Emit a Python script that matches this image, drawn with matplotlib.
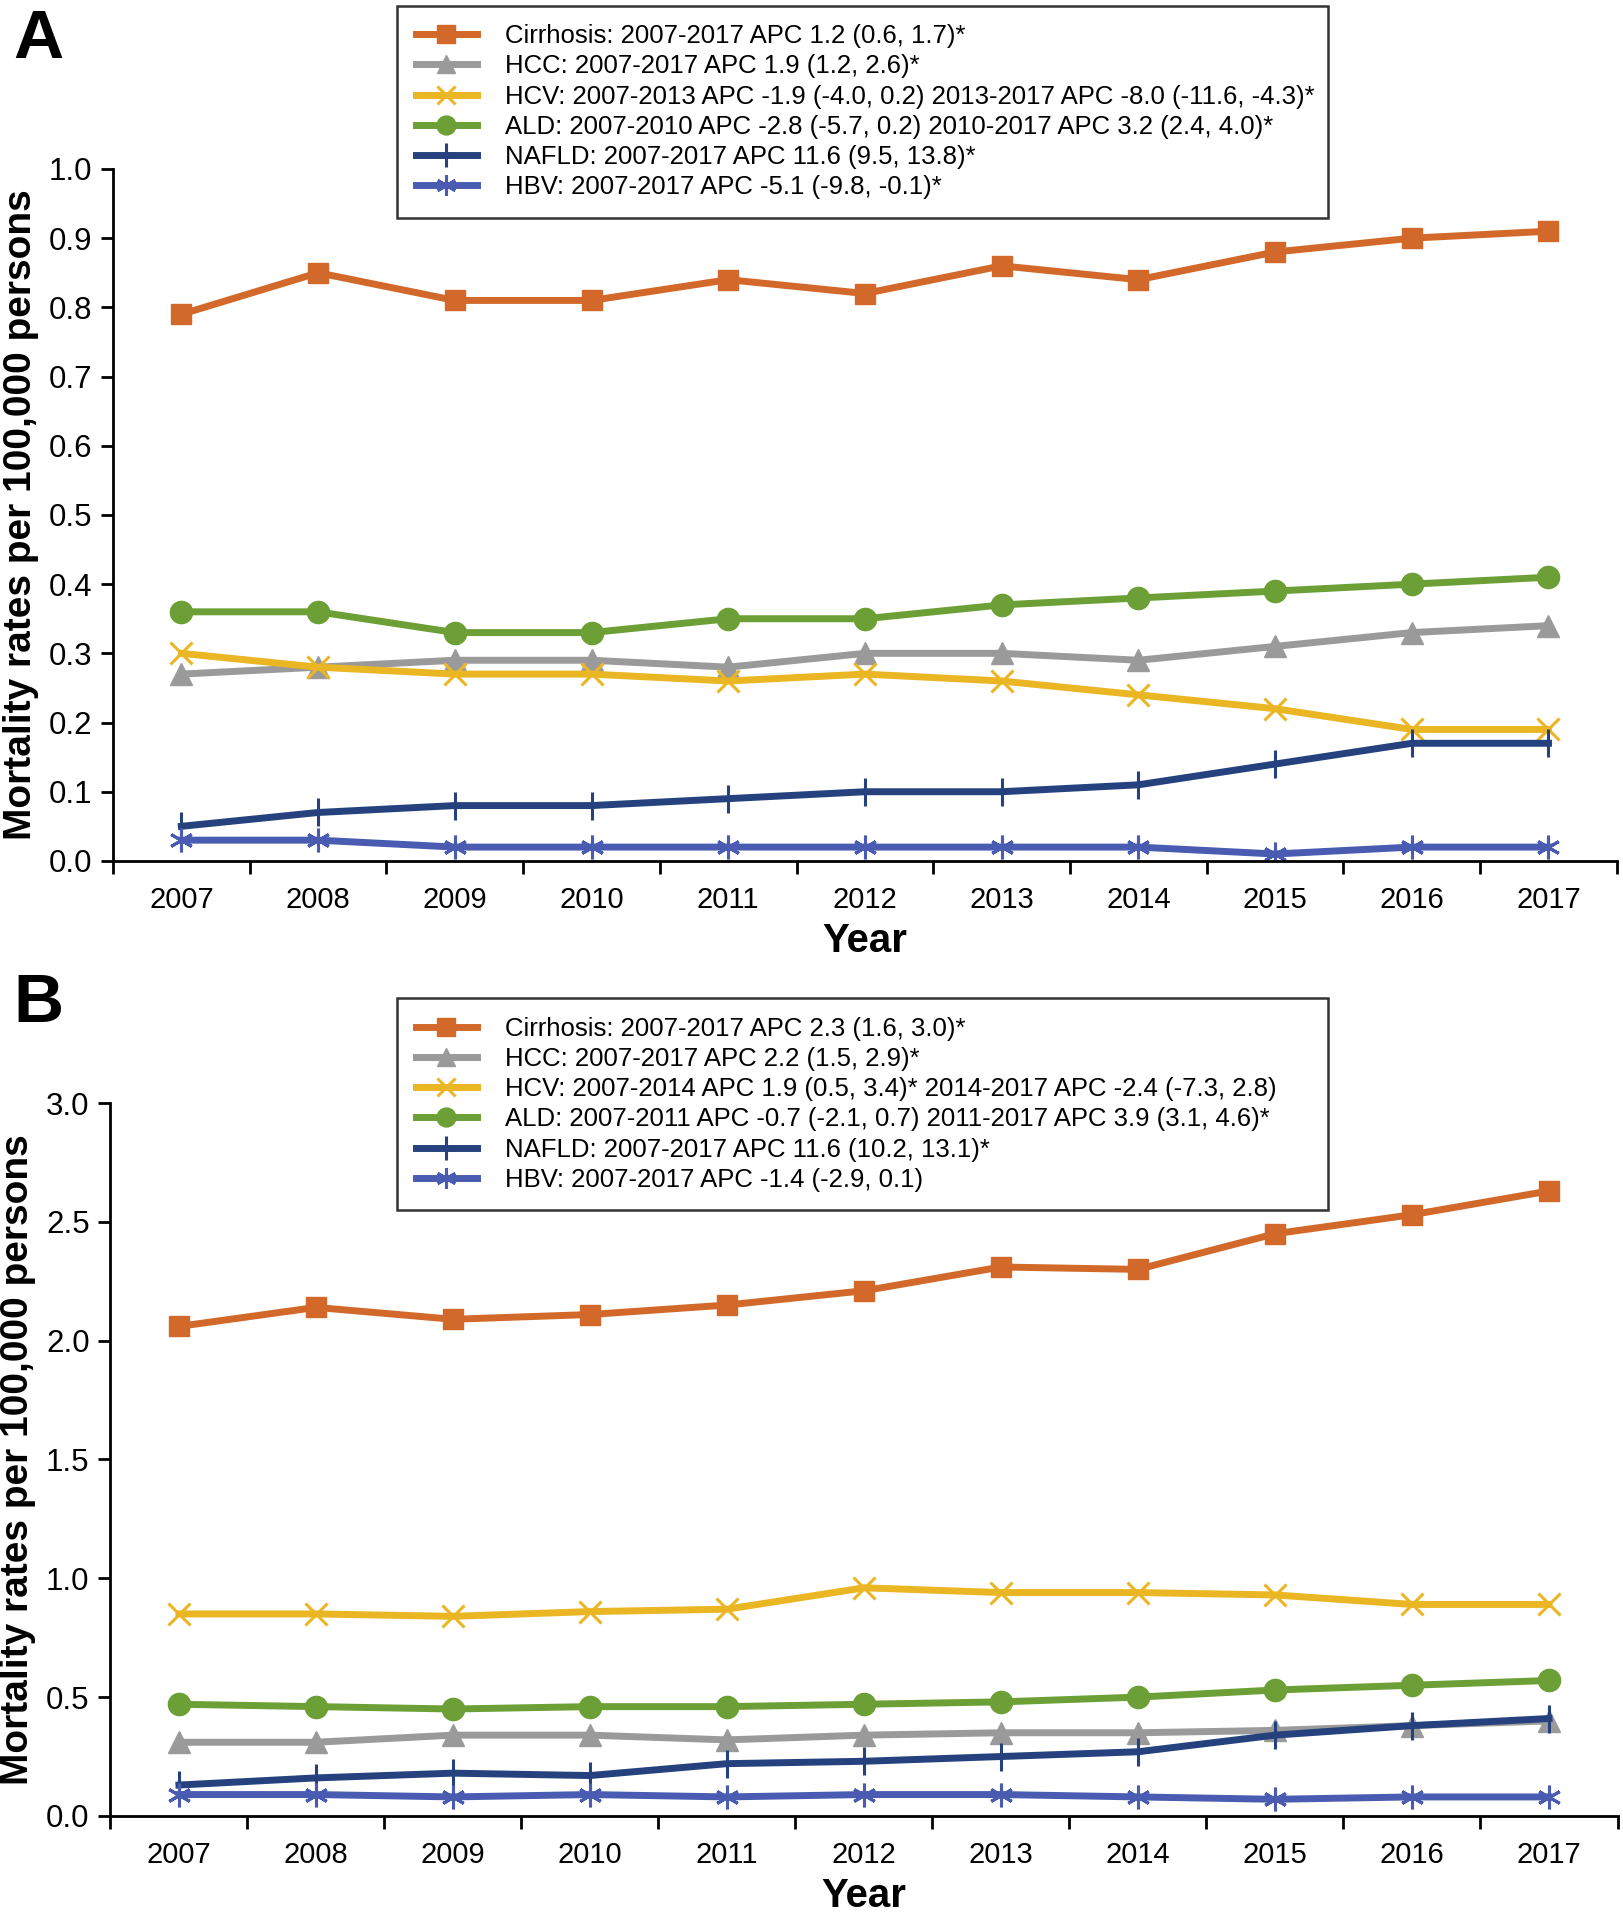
import matplotlib
matplotlib.use('Agg')
import matplotlib.pyplot as plt
from matplotlib.ticker import MultipleLocator, FixedLocator

years = list(range(2007, 2018))

# panel A
cirrhosis_a = [0.79, 0.85, 0.81, 0.81, 0.84, 0.82, 0.86, 0.84, 0.88, 0.90, 0.91]
hcc_a = [0.27, 0.28, 0.29, 0.29, 0.28, 0.30, 0.30, 0.29, 0.31, 0.33, 0.34]
hcv_a = [0.30, 0.28, 0.27, 0.27, 0.26, 0.27, 0.26, 0.24, 0.22, 0.19, 0.19]
ald_a = [0.36, 0.36, 0.33, 0.33, 0.35, 0.35, 0.37, 0.38, 0.39, 0.40, 0.41]
nafld_a = [0.05, 0.07, 0.08, 0.08, 0.09, 0.10, 0.10, 0.11, 0.14, 0.17, 0.17]
hbv_a = [0.03, 0.03, 0.02, 0.02, 0.02, 0.02, 0.02, 0.02, 0.01, 0.02, 0.02]
labels_a = [
    'Cirrhosis: 2007-2017 APC 1.2 (0.6, 1.7)*',
    'HCC: 2007-2017 APC 1.9 (1.2, 2.6)*',
    'HCV: 2007-2013 APC -1.9 (-4.0, 0.2) 2013-2017 APC -8.0 (-11.6, -4.3)*',
    'ALD: 2007-2010 APC -2.8 (-5.7, 0.2) 2010-2017 APC 3.2 (2.4, 4.0)*',
    'NAFLD: 2007-2017 APC 11.6 (9.5, 13.8)*',
    'HBV: 2007-2017 APC -5.1 (-9.8, -0.1)*',
]

# panel B
cirrhosis_b = [2.06, 2.14, 2.09, 2.11, 2.15, 2.21, 2.31, 2.30, 2.45, 2.53, 2.63]
hcc_b = [0.31, 0.31, 0.34, 0.34, 0.32, 0.34, 0.35, 0.35, 0.36, 0.38, 0.40]
hcv_b = [0.85, 0.85, 0.84, 0.86, 0.87, 0.96, 0.94, 0.94, 0.93, 0.89, 0.89]
ald_b = [0.47, 0.46, 0.45, 0.46, 0.46, 0.47, 0.48, 0.50, 0.53, 0.55, 0.57]
nafld_b = [0.13, 0.16, 0.18, 0.17, 0.22, 0.23, 0.25, 0.27, 0.34, 0.38, 0.41]
hbv_b = [0.09, 0.09, 0.08, 0.09, 0.08, 0.09, 0.09, 0.08, 0.07, 0.08, 0.08]
labels_b = [
    'Cirrhosis: 2007-2017 APC 2.3 (1.6, 3.0)*',
    'HCC: 2007-2017 APC 2.2 (1.5, 2.9)*',
    'HCV: 2007-2014 APC 1.9 (0.5, 3.4)* 2014-2017 APC -2.4 (-7.3, 2.8)',
    'ALD: 2007-2011 APC -0.7 (-2.1, 0.7) 2011-2017 APC 3.9 (3.1, 4.6)*',
    'NAFLD: 2007-2017 APC 11.6 (10.2, 13.1)*',
    'HBV: 2007-2017 APC -1.4 (-2.9, 0.1)',
]

colors = ['#D2692A', '#9A9A9A', '#EAB624', '#6C9F35', '#26427E', '#4A5BB2']
markers = ['s', '^', 'x', 'o', '|', (6, 2, 0)]
msizes = [15, 16, 16, 16, 20, 17]

plt.rcParams['font.family'] = ['Liberation Sans']

fig = plt.figure(figsize=(16.24, 19.2), dpi=100)
axA = fig.add_axes([0.0696, 0.5516, 0.926, 0.3604])
axB = fig.add_axes([0.068, 0.0542, 0.928, 0.3713])


def draw(ax, series, labels, ymax, ystep, leg_box):
    handles = []
    for vals, c, m, ms, lab in zip(series, colors, markers, msizes, labels):
        h, = ax.plot(years, vals, color=c, lw=5, marker=m, markersize=ms,
                     markeredgewidth=2.2 if m in ('x', '|', (6, 2, 0)) else 1,
                     markeredgecolor=c, label=lab)
        handles.append(h)
    ax.set_xlim(2006.5, 2017.5)
    ax.set_ylim(0, ymax)
    ax.yaxis.set_major_locator(MultipleLocator(ystep))
    ax.yaxis.set_major_formatter(plt.FormatStrFormatter('%.1f'))
    ax.xaxis.set_major_locator(FixedLocator([y + 0.5 for y in range(2006, 2018)]))
    ax.xaxis.set_major_formatter(plt.NullFormatter())
    ax.set_xticks(years, [str(y) for y in years], minor=True)
    ax.tick_params(axis='x', which='minor', length=0, pad=18, labelsize=21)
    ax.tick_params(axis='x', which='major', length=9, width=2)
    ax.tick_params(axis='y', length=9, width=2, labelsize=22.5, pad=6)
    for s in ['top', 'right']:
        ax.spines[s].set_visible(False)
    for s in ['left', 'bottom']:
        ax.spines[s].set_linewidth(2)
    ax.set_ylabel('Mortality rates per 100,000 persons', fontsize=28,
                  fontweight='bold', labelpad=7)
    ax.set_xlabel('Year', fontsize=29, fontweight='bold', labelpad=6)
    leg = fig.legend(handles=handles, loc='upper left', bbox_to_anchor=leg_box,
                     mode='expand', fancybox=False, frameon=True, edgecolor='black',
                     prop={'size': 18.5}, handlelength=2.4, markerscale=0.85,
                     labelspacing=0.24, borderpad=0.72, borderaxespad=0,
                     handletextpad=1.1)
    leg.get_frame().set_linewidth(1.8)
    return leg


draw(axA, [cirrhosis_a, hcc_a, hcv_a, ald_a, nafld_a, hbv_a], labels_a, 1.0, 0.1,
     (0.2445, 0.8885, 0.5735, 0.1085))
draw(axB, [cirrhosis_b, hcc_b, hcv_b, ald_b, nafld_b, hbv_b], labels_b, 3.0, 0.5,
     (0.2445, 0.373, 0.5735, 0.107))

fig.text(0.008, 0.996, 'A', fontsize=50, fontweight='bold', va='top')
fig.text(0.008, 0.494, 'B', fontsize=50, fontweight='bold', va='top')

fig.savefig('out.png', dpi=100)
